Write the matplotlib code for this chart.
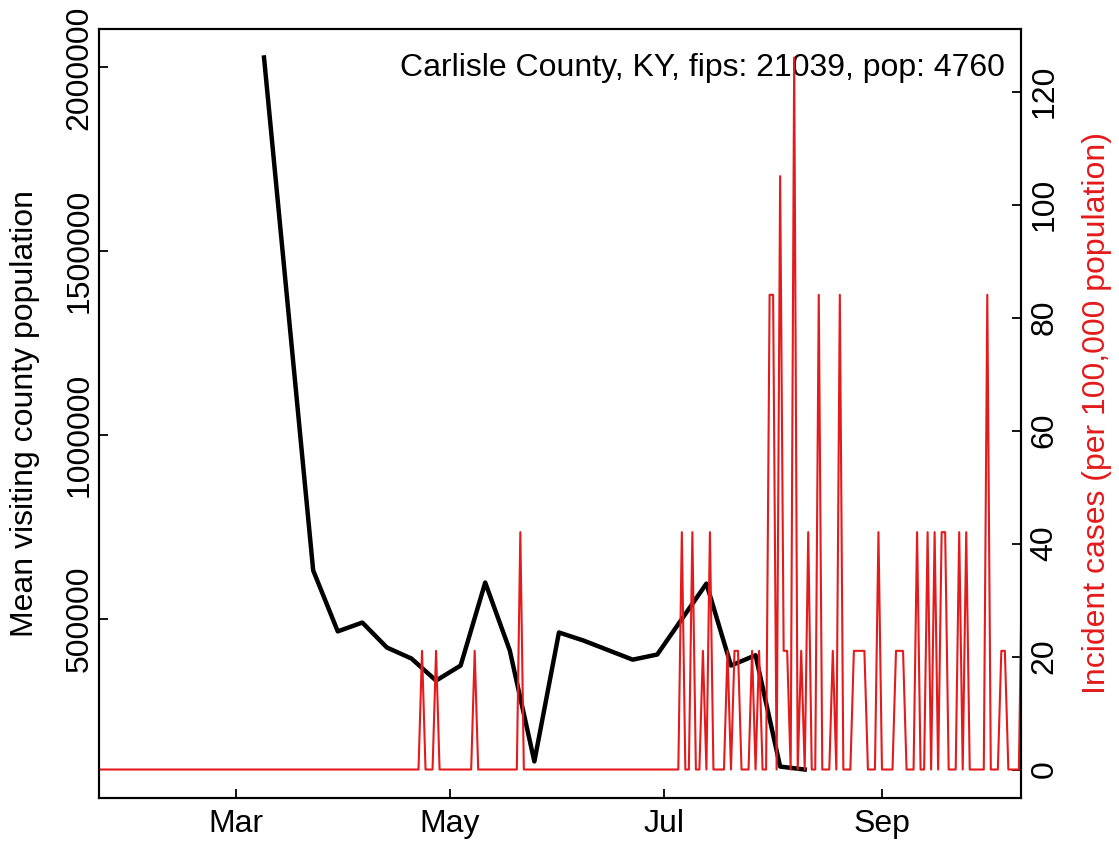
import numpy as np
import matplotlib
matplotlib.use("Agg")
import matplotlib.pyplot as plt
import matplotlib.dates as mdates
from matplotlib.ticker import FuncFormatter

plt.rcParams['font.family'] = ['Liberation Sans', 'DejaVu Sans']

county_label = "Carlisle County, KY, fips: 21039, pop: 4760"
population = 4760

# weekly mean visiting county population (black line)
visit_dates = np.array(['2020-03-09', '2020-03-23', '2020-03-30', '2020-04-06',
                        '2020-04-13', '2020-04-20', '2020-04-27', '2020-05-04',
                        '2020-05-11', '2020-05-18', '2020-05-25', '2020-06-01',
                        '2020-06-08', '2020-06-22', '2020-06-29', '2020-07-13',
                        '2020-07-20', '2020-07-27', '2020-08-03', '2020-08-10'],
                       dtype='datetime64[D]')
visit_mean = [2027000, 631000, 465000, 489000,
              421000, 391000, 331000, 372000,
              598000, 413000, 111000, 462000,
              440000, 388000, 402000, 595000,
              372000, 400000, 97000, 89000]

# daily new cases; every day not listed here had 0 cases
case_first = np.datetime64('2020-01-22')
case_last = np.datetime64('2020-10-11')
case_dates = np.array(['2020-04-23', '2020-04-27', '2020-05-08', '2020-05-21',
                       '2020-07-06', '2020-07-09', '2020-07-12', '2020-07-14',
                       '2020-07-19', '2020-07-21', '2020-07-22', '2020-07-26',
                       '2020-07-28', '2020-07-31', '2020-08-01', '2020-08-03',
                       '2020-08-04', '2020-08-05', '2020-08-07', '2020-08-09',
                       '2020-08-11', '2020-08-14', '2020-08-18', '2020-08-20',
                       '2020-08-24', '2020-08-25', '2020-08-26', '2020-08-27',
                       '2020-08-31', '2020-09-05', '2020-09-06', '2020-09-07',
                       '2020-09-11', '2020-09-14', '2020-09-16', '2020-09-18',
                       '2020-09-19', '2020-09-23', '2020-09-25', '2020-10-01',
                       '2020-10-05', '2020-10-06', '2020-10-11'],
                      dtype='datetime64[D]')
case_counts = [1, 1, 1, 2,
               2, 2, 1, 2,
               1, 1, 1, 1,
               1, 4, 4, 5,
               1, 1, 6, 1,
               2, 4, 1, 4,
               1, 1, 1, 1,
               2, 1, 1, 1,
               2, 2, 2, 2,
               2, 2, 2, 4,
               1, 1, 2]

days = np.arange(case_first, case_last + 1)
daily = np.zeros(len(days))
for d, c in zip(case_dates, case_counts):
    daily[(d - case_first).astype(int)] = c
incidence = daily / population * 100000

red = '#E41A1C'
fs = 23

fig = plt.figure(figsize=(11.19, 8.46), dpi=100)
ax = fig.add_axes([99 / 1119, 48 / 846, 922 / 1119, 769 / 846])
ax2 = ax.twinx()

ax.plot(visit_dates, visit_mean, color='black', lw=3.2, solid_joinstyle='round')
ax2.plot(days, incidence, color=red, lw=1.5)

x0 = mdates.date2num(case_first)
ax.set_xlim(x0, x0 + 262.6)
ax.margins(y=0.04)
ax2.margins(y=0.04)

ax.xaxis.set_major_locator(mdates.MonthLocator(bymonth=[3, 5, 7, 9]))
ax.xaxis.set_major_formatter(mdates.DateFormatter('%b'))
ax.set_yticks([500000, 1000000, 1500000, 2000000])
ax.yaxis.set_major_formatter(FuncFormatter(lambda v, p: '%d' % v))
ax2.set_yticks([0, 20, 40, 60, 80, 100, 120])

ax.tick_params(axis='x', direction='in', length=6.5, width=1.3, pad=8, labelsize=fs)
ax.tick_params(axis='y', direction='in', length=6.5, width=1.3, pad=3,
               labelsize=fs, labelrotation=90)
ax2.tick_params(axis='y', direction='in', length=6.5, width=1.3, pad=6,
                labelsize=fs, labelrotation=90)
for lab in ax.get_yticklabels():
    lab.set_va('center')
for lab in ax2.get_yticklabels():
    lab.set_va('center')

for a in (ax, ax2):
    for s in a.spines.values():
        s.set_linewidth(1.5)

ax.text(0.983, 0.949, county_label, transform=ax.transAxes,
        ha='right', va='center', fontsize=fs)

fig.text(25 / 1119, 0.5 * (48 + 817) / 846, 'Mean visiting county population',
         rotation=90, ha='center', va='center', fontsize=fs)
fig.text(1097 / 1119, 0.5 * (48 + 817) / 846, 'Incident cases (per 100,000 population)',
         rotation=90, ha='center', va='center', fontsize=fs, color=red)

fig.savefig('out.png', dpi=100)
